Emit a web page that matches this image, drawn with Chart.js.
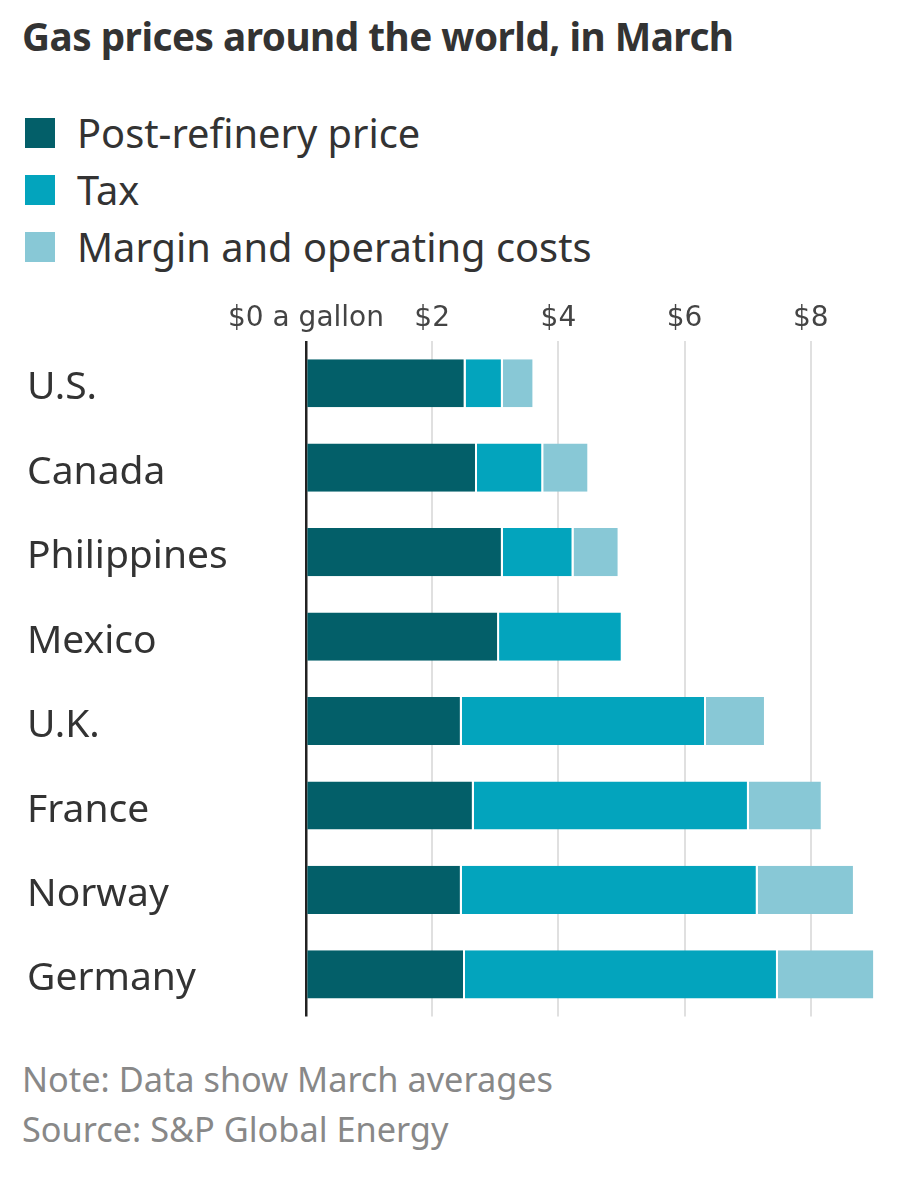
<!DOCTYPE html>
<html>
<head>
<meta charset="utf-8">
<script src="https://cdn.jsdelivr.net/npm/chart.js@4/dist/chart.umd.min.js"></script>
<style>
  body { margin: 0; background: #fff; width: 899px; height: 1200px; overflow: hidden; font-family: 'Noto Sans', sans-serif; color: #333; }
  #title { position: absolute; left: 22px; top: 10px; font-size: 38.7px; font-weight: 700; letter-spacing: -0.5px; color: #333; white-space: nowrap; }
  #legend { position: absolute; left: 25px; top: 104px; }
  .item { height: 57px; display: flex; align-items: center; font-size: 39.8px; color: #333; }
  .sw { width: 30px; height: 30px; margin-right: 22px; }
  #wrap { position: absolute; left: 0; top: 280px; width: 899px; height: 763px; }
  .note { position: absolute; left: 22px; font-size: 34.3px; color: #888; white-space: nowrap; }
</style>
</head>
<body>
<div id="title">Gas prices around the world, in March</div>
<div id="legend"></div>
<div id="wrap"><canvas id="chart"></canvas></div>
<div class="note" style="top:1055px">Note: Data show March averages</div>
<div class="note" style="top:1105px">Source: S&amp;P Global Energy</div>
<script>
'use strict';
// countries, top to bottom
let countries = ['U.S.', 'Canada', 'Philippines', 'Mexico', 'U.K.', 'France', 'Norway', 'Germany'];
// dollars a gallon
let postRefinery = [2.53, 2.71, 3.12, 3.06, 2.47, 2.66, 2.47, 2.52];
let tax = [0.59, 1.05, 1.12, 1.96, 3.87, 4.36, 4.69, 4.96];
let margin = [0.50, 0.73, 0.73, 0, 0.95, 1.17, 1.54, 1.54];
let seriesNames = ['Post-refinery price', 'Tax', 'Margin and operating costs'];
let seriesColors = ['#035f69', '#03a4bd', '#88c8d6'];
let tickValues = [0, 2, 4, 6, 8];

// html legend
let legendEl = document.getElementById('legend');
seriesNames.forEach((name, i) => {
  let row = document.createElement('div');
  row.className = 'item';
  row.innerHTML = '<span class="sw" style="background:' + seriesColors[i] + '"></span>' + name;
  legendEl.appendChild(row);
});

let seriesData = [postRefinery, tax, margin];
let datasets = seriesData.map((d, i) => ({
  label: seriesNames[i],
  data: d,
  backgroundColor: seriesColors[i],
  borderColor: '#fff',
  borderWidth: { left: 0, right: 2, top: 0, bottom: 0 },
  borderSkipped: false,
  barPercentage: 0.57,
  categoryPercentage: 1
}));

// the tick labels in the picture use a narrow face
let condensed = {
  id: 'condensed',
  beforeDraw: c => { c.ctx.fontStretch = 'condensed'; }
};

let ctx = document.getElementById('chart').getContext('2d');
let chart = new Chart(ctx, {
  type: 'bar',
  data: { labels: countries, datasets: datasets },
  plugins: [condensed],
  options: {
    indexAxis: 'y',
    responsive: true,
    maintainAspectRatio: false,
    animation: false,
    layout: { padding: { left: 27, right: 22, top: 0, bottom: 8 } },
    plugins: { legend: { display: false }, tooltip: { enabled: false } },
    scales: {
      x: {
        position: 'top',
        stacked: true,
        min: 0,
        max: 9.05,
        afterBuildTicks: scale => { scale.ticks = tickValues.map(v => ({ value: v })); },
        afterFit: scale => { scale.height = 61; },
        ticks: {
          padding: 5,
          maxRotation: 0,
          minRotation: 0,
          autoSkip: false,
          color: '#444',
          font: { family: "'DejaVu Sans', sans-serif", size: 28 },
          callback: v => v === 0 ? '$0 a gallon' : '$' + v
        },
        grid: {
          color: c => c.tick && c.tick.value === 0 ? '#222' : '#e0e0e0',
          lineWidth: c => c.tick && c.tick.value === 0 ? 2.5 : 2,
          drawTicks: false
        },
        border: { display: false }
      },
      y: {
        stacked: true,
        afterFit: scale => { scale.width = 279; },
        ticks: {
          crossAlign: 'far',
          labelOffset: 5,
          color: '#333',
          font: { family: "'Noto Sans', sans-serif", size: 39 }
        },
        grid: { display: false },
        border: { display: false }
      }
    }
  }
});
</script>
</body>
</html>
